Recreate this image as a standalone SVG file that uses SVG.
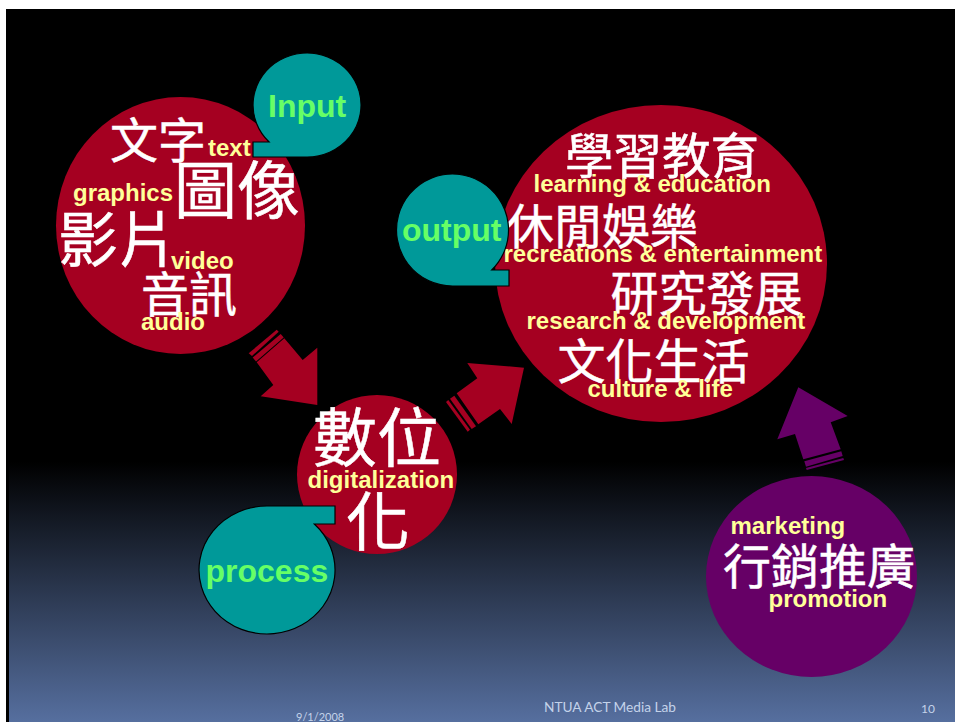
<svg xmlns="http://www.w3.org/2000/svg" width="955" height="722" viewBox="0 0 955 722">
<style>
.red{fill:#a50021}
.purple{fill:#660066}
.teal{fill:#009999;stroke:#000;stroke-width:1.2}
.zh{font-family:"Noto Sans CJK TC","Noto Sans CJK SC",sans-serif;fill:#fff;stroke:#fff;stroke-width:.5}
.en{font-family:"Liberation Sans",Arial,sans-serif;font-weight:bold;font-size:24px;fill:#ffff99}
.call{font-family:"Liberation Sans",Arial,sans-serif;font-weight:bold;font-size:32px;fill:#66ff66}
.foot{font-family:Lato,"Open Sans",sans-serif;fill:#c4d3ea}
</style>
<defs>
<linearGradient id="bg" x1="0" y1="0" x2="0" y2="1">
<stop offset="0" stop-color="#000"/>
<stop offset="0.635" stop-color="#000"/>
<stop offset="1" stop-color="#566f9f"/>
</linearGradient>
</defs>
<rect width="955" height="722" fill="#fff"/>
<rect x="6" y="9" width="949" height="713" fill="#000"/>
<rect x="9" y="9" width="946" height="713" fill="url(#bg)"/>
<g id="connectors">
<g id="arrow-in" class="red">
<polygon points="317.3,405 317.3,347.7 302.7,360 284.3,338.3 256.7,362.3 273.3,385 260.7,396.3"/>
<polygon points="280.7,334 283.7,337.5 256,361.5 252.7,357.5"/>
<polygon points="276.7,329.7 278.7,331.7 252,356 248.7,353.3"/>
</g>
<g id="arrow-out" class="red">
<polygon points="524,367.7 467.3,363 477.3,378.3 456.7,393.3 478.3,424.3 500,409 511.7,424"/>
<polygon points="454.3,395.7 450,398.7 471.7,429 476,426.3"/>
<polygon points="448.3,400 446,402 467.7,431.7 470,429.7"/>
</g>
<g id="arrow-promo" class="purple">
<polygon points="798.3,387.3 847.7,416 830.7,422.3 840.7,449.3 803.3,459.3 795,434 777.3,439.3"/>
<polygon points="841.3,451.3 842.7,456 806,466.7 804.3,461.3"/>
<polygon points="843.3,458 844,460 806.7,470 806,468"/>
</g>
</g>
<g id="node-media">
<ellipse class="red" cx="180.5" cy="225.5" rx="124.5" ry="128.5"/>
<text class="zh" x="110" y="158" font-size="48">文字</text>
<text class="en" x="208" y="156">text</text>
<text class="en" x="73" y="201">graphics</text>
<text class="zh" x="174" y="213" font-size="63">圖像</text>
<text class="zh" x="58" y="262" font-size="60">影片</text>
<text class="en" x="171" y="269">video</text>
<text class="zh" x="141" y="312" font-size="48">音訊</text>
<text class="en" x="141" y="330">audio</text>
</g>
<g id="callout-input">
<path class="teal" d="M269.100,142 H253 V157 H307 A54,52 0 1 0 269.100,142 Z"/>
<text class="call" x="268" y="117">Input</text>
</g>
<g id="node-digital">
<ellipse class="red" cx="377" cy="474.5" rx="80" ry="79.5"/>
<text class="zh" x="313" y="461" font-size="64">數位</text>
<text class="en" x="307.500" y="488">digitalization</text>
<text class="zh" x="346" y="545" font-size="64">化</text>
</g>
<g id="callout-process">
<path class="teal" d="M314.300,524 H335 V506 H267 A68,64 0 1 0 314.300,524 Z"/>
<text class="call" x="205.500" y="582">process</text>
</g>
<g id="node-applications">
<ellipse class="red" cx="661" cy="263.500" rx="166" ry="158.500"/>
<text class="zh" x="565" y="174" font-size="48.500">學習教育</text>
<text class="en" x="533.500" y="192">learning &amp; education</text>
<text class="zh" x="506" y="244" font-size="48">休閒娛樂</text>
<text class="en" x="503.500" y="262">recreations &amp; entertainment</text>
<text class="zh" x="610.500" y="311" font-size="48">研究發展</text>
<text class="en" x="526.500" y="329">research &amp; development</text>
<text class="zh" x="557.500" y="379" font-size="48">文化生活</text>
<text class="en" x="587.500" y="397">culture &amp; life</text>
</g>
<g id="callout-output">
<path class="teal" d="M491.700,270 H509 V286 H452.500 A56,56 0 1 1 491.700,270 Z"/>
<text class="call" x="402" y="241">output</text>
</g>
<g id="node-promotion">
<ellipse class="purple" cx="811.500" cy="576.500" rx="105.500" ry="100.500"/>
<text class="en" x="730.500" y="534">marketing</text>
<text class="zh" x="723" y="584" font-size="48">行銷推廣</text>
<text class="en" x="768.500" y="607">promotion</text>
</g>
<g id="footer">
<text class="foot" x="296" y="721" font-size="11">9/1/2008</text>
<text class="foot" x="544" y="712" font-size="13.700">NTUA ACT Media Lab</text>
<text class="foot" x="921" y="713" font-size="12">10</text>
</g>
</svg>
